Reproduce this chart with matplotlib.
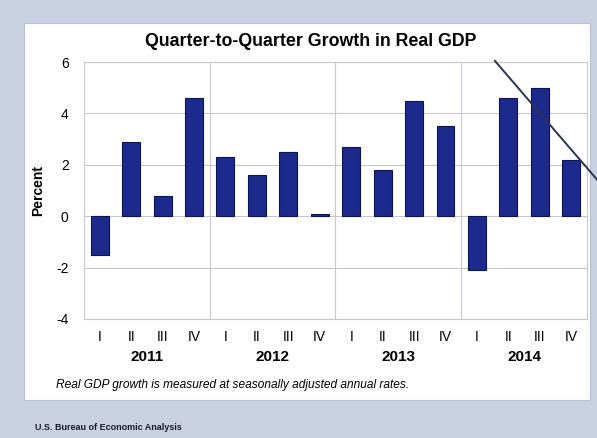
import matplotlib
matplotlib.use("Agg")
import matplotlib.pyplot as plt
from matplotlib.patches import Rectangle
from matplotlib.lines import Line2D

plt.rcParams["font.family"] = ["Liberation Sans", "DejaVu Sans"]

YEARS = ["2011", "2012", "2013", "2014"]
QUARTERS = ["I", "II", "III", "IV"]
GROWTH = [-1.5, 2.9, 0.8, 4.6,
          2.3, 1.6, 2.5, 0.1,
          2.7, 1.8, 4.5, 3.5,
          -2.1, 4.6, 5.0, 2.2]
YTICKS = [-4, -2, 0, 2, 4, 6]

BG = "#c9d0e2"
BAR = "#1c2a8e"

fig = plt.figure(figsize=(5.97, 4.38), dpi=100, facecolor=BG)

# white card behind the chart
fig.add_artist(Rectangle((0.040, 0.087), 0.948, 0.861, transform=fig.transFigure,
                         facecolor="white", edgecolor="#b8bfd0", lw=0.8, zorder=0))

ax = fig.add_axes([0.1407, 0.2717, 0.8425, 0.5867])
x = list(range(len(GROWTH)))
ax.bar(x, GROWTH, width=0.57, color=BAR, edgecolor="#0c1550", lw=0.8, zorder=3)

ax.set_xlim(-0.5, len(GROWTH) - 0.5)
ax.set_ylim(-4, 6)
ax.set_yticks(YTICKS)
ax.set_yticklabels([str(v) for v in YTICKS], fontsize=10)
ax.tick_params(axis="y", length=0, pad=11)
ax.yaxis.grid(True, color="#c8c8c8", lw=0.8, zorder=0)
for sep in (3.5, 7.5, 11.5):
    ax.axvline(sep, color="#c8c8d8", lw=0.8, zorder=1)
for s in ax.spines.values():
    s.set_color("#c8c8d4")
    s.set_linewidth(0.8)

ax.set_xticks(x)
ax.set_xticklabels(QUARTERS * len(YEARS), fontsize=10)
ax.tick_params(axis="x", length=0, pad=8)
for i, yr in enumerate(YEARS):
    ax.text(i * 4 + 1.5, -0.148, yr, transform=ax.get_xaxis_transform(),
            ha="center", va="center", fontsize=11, fontweight="bold")

ax.set_ylabel("Percent", fontsize=10, fontweight="bold", labelpad=8)

fig.text(0.52, 0.905, "Quarter-to-Quarter Growth in Real GDP", ha="center", va="center",
         fontsize=12.8, fontweight="bold")
fig.text(0.094, 0.122, "Real GDP growth is measured at seasonally adjusted annual rates.",
         ha="left", va="center", fontsize=8.6, style="italic")
fig.text(0.058, 0.025, "U.S. Bureau of Economic Analysis", ha="left", va="center",
         fontsize=6.5, fontweight="bold", color="#1a1a2a")

# slanted pen stroke across the 2014 bars
fig.add_artist(Line2D([0.829, 1.0], [0.861, 0.59], transform=fig.transFigure,
                      color="#2c3350", lw=1.4, zorder=5))

fig.savefig("out.png", dpi=100, facecolor=BG)
